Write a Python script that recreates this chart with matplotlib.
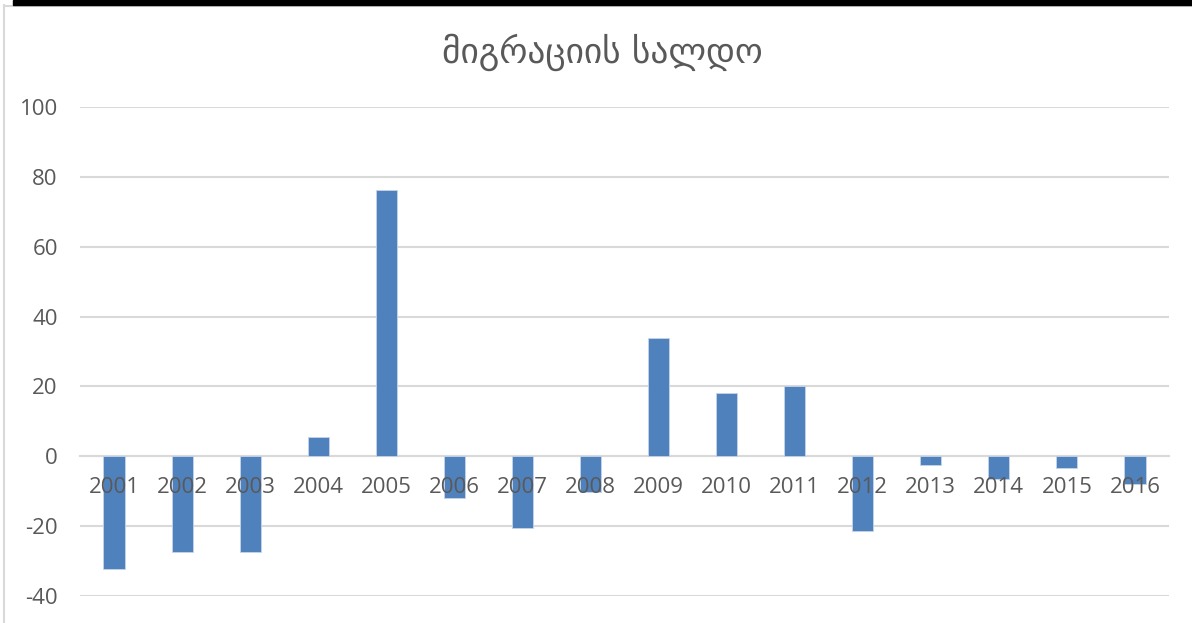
import matplotlib.pyplot as plt
from matplotlib.patches import Rectangle
from matplotlib.lines import Line2D

years = ['2001', '2002', '2003', '2004', '2005', '2006', '2007', '2008',
         '2009', '2010', '2011', '2012', '2013', '2014', '2015', '2016']
saldo = [-32.4, -27.5, -27.5, 5.4, 76.1, -11.9, -20.5, -10.2,
         34.0, 18.0, 20.0, -21.4, -2.5, -6.4, -3.3, -7.9]
title = 'მიგრაციის სალდო'

plt.rcParams['font.family'] = ['Open Sans', 'DejaVu Sans']
plt.rcParams['axes.unicode_minus'] = False

fig = plt.figure(figsize=(11.92, 6.23), dpi=100)
ax = fig.add_axes([80 / 1192, 1 - 596 / 623, 1089 / 1192, (596 - 107) / 623])

x = range(len(years))
ax.bar(x, saldo, width=0.31, color='#4f81bd', edgecolor='#c6d5ea', linewidth=0.6, zorder=2)

ax.set_xlim(-0.5, len(years) - 0.5)
ax.set_ylim(-40, 100)
ax.set_yticks(range(-40, 101, 20))
ax.yaxis.grid(True, color='#d9d9d9', linewidth=1.5)
ax.yaxis.set_zorder(0.5)
ax.xaxis.set_zorder(5)

for s in ['top', 'right', 'left']:
    ax.spines[s].set_visible(False)
ax.spines['bottom'].set_position(('data', 0))
ax.spines['bottom'].set_color('#d9d9d9')
ax.spines['bottom'].set_linewidth(1.5)
ax.spines['bottom'].set_zorder(1)

ax.set_xticks(list(x))
ax.set_xticklabels(years)
ax.tick_params(axis='x', length=0, pad=15, labelsize=16, labelcolor='#595959')
ax.tick_params(axis='y', length=0, pad=16, labelsize=16, labelcolor='#595959')

fig.text(0.505, 1 - 52 / 623, title, ha='center', va='center', fontsize=25.5,
         color='#595959', family=['DejaVu Sans'])

# window decoration: black strip on top and grey frame
fig.patches.append(Rectangle((13 / 1192, 1 - 5 / 623), 1, 5 / 623, transform=fig.transFigure,
                             color='black', zorder=10))
fig.lines.append(Line2D([4 / 1192, 4 / 1192], [0, 1 - 5 / 623], transform=fig.transFigure,
                        color='#d9d9d9', linewidth=1.5))
fig.lines.append(Line2D([4 / 1192, 1], [1 - 6 / 623, 1 - 6 / 623], transform=fig.transFigure,
                        color='#d9d9d9', linewidth=1.5))

fig.savefig('out.png', dpi=100)
